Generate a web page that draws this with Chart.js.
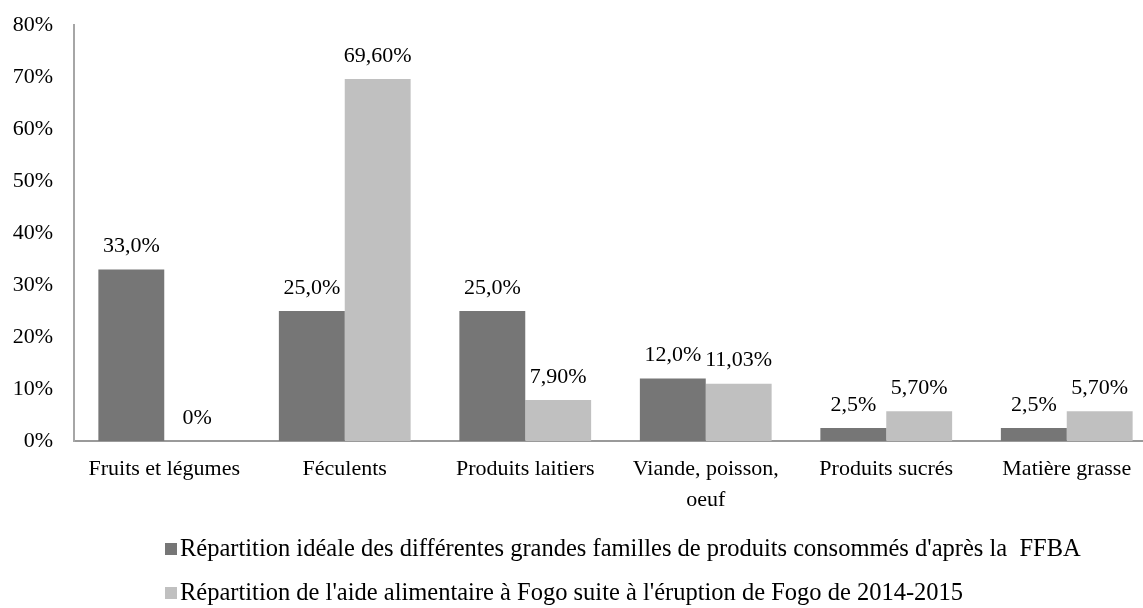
<!DOCTYPE html>
<html>
<head>
<meta charset="utf-8">
<script src="https://cdn.jsdelivr.net/npm/chart.js@4/dist/chart.umd.min.js"></script>
<style>
    body { margin: 0; background: #fff; overflow: hidden; }
    #wrap { width: 1143px; height: 608px; overflow: hidden; }
</style>
</head>
<body>
<div id="wrap">
    <canvas id="foodChart" width="1157" height="608"></canvas>
</div>
<script>
const categories = [
    'Fruits et légumes',
    'Féculents',
    'Produits laitiers',
    ['Viande, poisson,', 'oeuf'],
    'Produits sucrés',
    'Matière grasse'
];
const idealShare = [33.0, 25.0, 25.0, 12.0, 2.5, 2.5];
const aidShare = [0, 69.60, 7.90, 11.03, 5.70, 5.70];
const yTicks = [0, 10, 20, 30, 40, 50, 60, 70, 80];

const seriesNames = [
    "Répartition idéale des différentes grandes familles de produits consommés d'après la  FFBA",
    "Répartition de l'aide alimentaire à Fogo suite à l'éruption de Fogo de 2014-2015"
];

const FONT = "'Liberation Serif', serif";

// number -> "33,0%" style label
function fmt(v, digits) {
    if (v === 0) return '0%';
    return v.toFixed(digits).replace('.', ',') + '%';
}

const valueLabels = {
    id: 'valueLabels',
    afterDatasetsDraw(chart) {
        const ctx = chart.ctx;
        ctx.save();
        ctx.font = '22px ' + FONT;
        ctx.fillStyle = '#000';
        ctx.textAlign = 'center';
        ctx.textBaseline = 'middle';
        chart.data.datasets.forEach((ds, i) => {
            chart.getDatasetMeta(i).data.forEach((bar, j) => {
                ctx.fillText(fmt(ds.data[j], ds.digits), bar.x, bar.y - 23);
            });
        });
        ctx.restore();
    }
};

// stacked legend under the chart, rows left aligned
const stackedLegend = {
    id: 'stackedLegend',
    afterDraw(chart) {
        const ctx = chart.ctx;
        ctx.save();
        ctx.font = '24.5px ' + FONT;
        ctx.textAlign = 'left';
        ctx.textBaseline = 'middle';
        chart.data.datasets.forEach((ds, i) => {
            const y = 549 + i * 44;
            ctx.fillStyle = ds.backgroundColor;
            ctx.fillRect(165, y - 6, 12, 12);
            ctx.fillStyle = '#000';
            ctx.fillText(ds.label, 180, y + 1);
        });
        ctx.restore();
    }
};

const ctx = document.getElementById('foodChart').getContext('2d');
const foodChart = new Chart(ctx, {
    type: 'bar',
    data: {
        labels: categories,
        datasets: [{
            label: seriesNames[0],
            data: idealShare,
            digits: 1,
            backgroundColor: '#767676'
        }, {
            label: seriesNames[1],
            data: aidShare,
            digits: 2,
            backgroundColor: '#c0c0c0'
        }]
    },
    options: {
        responsive: false,
        animation: false,
        categoryPercentage: 0.73,
        barPercentage: 1,
        layout: { padding: { left: 13, top: 25, right: 0, bottom: 85 } },
        plugins: {
            legend: { display: false },
            tooltip: { enabled: false }
        },
        scales: {
            x: {
                afterFit(scale) {
                    scale.paddingLeft = 0;
                    scale.paddingRight = 0;
                    scale.height = 82;
                },
                grid: { display: false, drawTicks: false },
                border: { display: true, color: '#9a9a9a', width: 2 },
                ticks: {
                    color: '#000',
                    font: { family: FONT, size: 22, lineHeight: 1.4 },
                    padding: 13,
                    maxRotation: 0,
                    autoSkip: false
                }
            },
            y: {
                min: 0,
                max: 80,
                afterBuildTicks(scale) {
                    scale.ticks = yTicks.map(v => ({ value: v }));
                },
                afterFit(scale) {
                    scale.width = 61;
                    scale.paddingTop = 0;
                    scale.paddingBottom = 0;
                },
                grid: { display: false, drawTicks: false },
                border: { display: true, color: '#a6a6a6', width: 2 },
                ticks: {
                    color: '#000',
                    font: { family: FONT, size: 22 },
                    padding: 21,
                    callback: v => v + '%'
                }
            }
        }
    },
    plugins: [valueLabels, stackedLegend]
});
</script>
</body>
</html>
